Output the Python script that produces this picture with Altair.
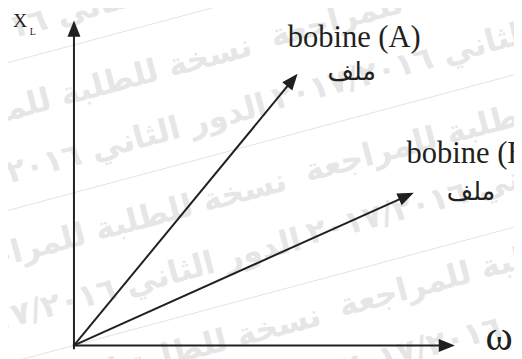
import math
import altair as alt
import pandas as pd

# ---- coordinate system (data units) ----
X_DOMAIN = [0, 10]
X_RANGE = [67, 454]
Y_DOMAIN = [0, 10]
Y_RANGE = [340, 10]
kx = (X_RANGE[1] - X_RANGE[0]) / (X_DOMAIN[1] - X_DOMAIN[0])
ky = (Y_RANGE[0] - Y_RANGE[1]) / (Y_DOMAIN[1] - Y_DOMAIN[0])

# ---- vectors: start and tip (omega, X_L) ----
vec_names = ["axe X_L", "axe ω", "bobine (A)", "bobine (B)"]
vec_x0 = [0.0, -0.03, 0.0, 0.0]
vec_y0 = [-0.12, 0.0, 0.0, 0.0]
vec_x1 = [0.0, 10.0, 5.87, 8.92]
vec_y1 = [10.0, 0.0, 8.36, 4.70]

# ---- labels ----
lab_text = ["bobine (A)", "bobine (B)"]
lab_x = [5.61, 8.73]
lab_y = [9.18, 5.61]
ar_text = ["ملف", "ملف"]
ar_x = [7.93, 11.06]
ar_y = [8.18, 4.49]
omega_x, omega_y = [10.80], [-0.15]
xl_x, xl_y = [-1.60], [9.79]
sub_x, sub_y = [-1.16], [9.55]

# ---- watermark ----
wm_l1 = "نسخة للطلبة للمراجعة"
wm_l2 = "الدور الثاني ٢٠١٧/٢٠١٦"
wm_text = [wm_l1, wm_l2] * 7
wm_x = [3.75, 4.14, 4.65, 5.04, 5.56, 5.95, 6.46, 6.85, 13.88, 14.27, 14.78, 15.17, 15.68, 16.07]
wm_y = [13.39, 11.57, 9.24, 7.42, 5.09, 3.27, 0.94, -0.88, 12.21, 10.39, 8.06, 6.24, 3.91, 2.09]
wm_line_x0 = [-1.94, -1.94, -1.94]
wm_line_y0 = [8.64, 4.09, -0.61]
wm_line_x1 = [11.55, 11.55, 11.55]
wm_line_y1 = [12.88, 8.33, 3.64]

INK = "#231f20"
HEAD_LEN = 16.5  # px

# segments shortened so the stroke ends inside the arrowhead
seg_rows, head_rows = [], []
for n, a, b, c, d in zip(vec_names, vec_x0, vec_y0, vec_x1, vec_y1):
    dxp, dyp = (c - a) * kx, (d - b) * ky
    L = math.hypot(dxp, dyp)
    f = (L - 10) / L
    seg_rows.append({"name": n, "x": a, "y": b, "x2": a + (c - a) * f, "y2": b + (d - b) * f})
    head_rows.append({"name": n, "x": c, "y": d, "ang": math.degrees(math.atan2(dxp, dyp)) % 360})
seg_df = pd.DataFrame(seg_rows)
head_df = pd.DataFrame(head_rows)

xs = alt.Scale(domain=X_DOMAIN, range=X_RANGE, zero=False, nice=False)
ys = alt.Scale(domain=Y_DOMAIN, range=Y_RANGE, zero=False, nice=False)


def X(f="x"):
    return alt.X(f"{f}:Q", scale=xs, axis=None)


def Y(f="y"):
    return alt.Y(f"{f}:Q", scale=ys, axis=None)


wm_lines = alt.Chart(pd.DataFrame({"x": wm_line_x0, "y": wm_line_y0, "x2": wm_line_x1, "y2": wm_line_y1})).mark_rule(
    color="#e3e3e3", strokeWidth=1
).encode(x=X(), y=Y(), x2="x2:Q", y2="y2:Q")

wm = alt.Chart(pd.DataFrame({"x": wm_x, "y": wm_y, "t": wm_text})).mark_text(
    font="DejaVu Sans", fontWeight="bold", fontSize=32, color="#e6e6e6",
    align="right", baseline="middle", angle=345
).encode(x=X(), y=Y(), text="t:N")

segs = alt.Chart(seg_df).mark_rule(color=INK, strokeWidth=2).encode(
    x=X(), y=Y(), x2="x2:Q", y2="y2:Q"
)

heads = alt.Chart(head_df).mark_point(
    shape="M0,0L0.4,1L-0.4,1Z", filled=True, size=(2 * HEAD_LEN) ** 2,
    color=INK, opacity=1, strokeWidth=0
).encode(x=X(), y=Y(), angle=alt.Angle("ang:Q", scale=None))

labels = alt.Chart(pd.DataFrame({"x": lab_x, "y": lab_y, "t": lab_text})).mark_text(
    font="Liberation Serif", fontSize=31, color=INK, align="left", baseline="alphabetic"
).encode(x=X(), y=Y(), text="t:N")

ar_labels = alt.Chart(pd.DataFrame({"x": ar_x, "y": ar_y, "t": ar_text})).mark_text(
    font="DejaVu Sans", fontSize=26, color=INK, align="right", baseline="alphabetic"
).encode(x=X(), y=Y(), text="t:N")

omega = alt.Chart(pd.DataFrame({"x": omega_x, "y": omega_y, "t": ["ω"]})).mark_text(
    font="Liberation Serif", fontSize=42, color=INK, align="left", baseline="alphabetic"
).encode(x=X(), y=Y(), text="t:N")

xl = alt.Chart(pd.DataFrame({"x": xl_x, "y": xl_y, "t": ["X"]})).mark_text(
    font="Liberation Serif", fontSize=20, color=INK, align="left", baseline="alphabetic"
).encode(x=X(), y=Y(), text="t:N")

sub = alt.Chart(pd.DataFrame({"x": sub_x, "y": sub_y, "t": ["L"]})).mark_text(
    font="Liberation Serif", fontSize=10, color=INK, align="left", baseline="alphabetic"
).encode(x=X(), y=Y(), text="t:N")

chart = alt.layer(wm_lines, wm, segs, heads, labels, ar_labels, omega, xl, sub).properties(
    width=514, height=351, padding=0, autosize=alt.AutoSizeParams(type="none"),
    background="white"
).configure_view(stroke=None)

chart.save("out.html", embed_options={"renderer": "svg", "actions": False})
